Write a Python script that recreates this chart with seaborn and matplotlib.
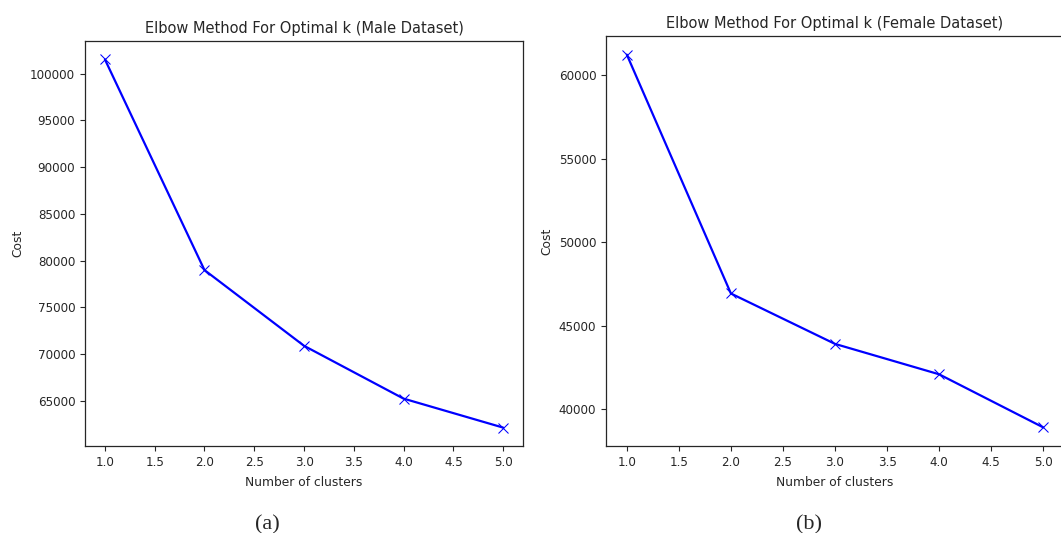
import matplotlib
matplotlib.use("Agg")
import matplotlib.pyplot as plt
import pandas as pd
import seaborn as sns

# Elbow curve values
clusters = [1, 2, 3, 4, 5]
male_cost = [101530, 79000, 70900, 65250, 62150]
female_cost = [61230, 46920, 43900, 42080, 38900]

sns.set_theme(style="ticks")
plt.rcParams["font.family"] = ["DejaVu Sans"]

fig = plt.figure(figsize=(10.61, 5.33), dpi=100)
ax_m = fig.add_axes([85 / 1061, 87 / 533, 438 / 1061, 405 / 533])
ax_f = fig.add_axes([606 / 1061, 87 / 533, 458 / 1061, 410 / 533])

panels = [
    (ax_m, male_cost, "Elbow Method For Optimal k (Male Dataset)", "(a)", 267),
    (ax_f, female_cost, "Elbow Method For Optimal k (Female Dataset)", "(b)", 809),
]

for ax, cost, title, tag, cx in panels:
    df = pd.DataFrame({"k": clusters, "cost": cost})
    sns.lineplot(data=df, x="k", y="cost", ax=ax, color="blue", marker="x",
                 markersize=6.5, markeredgecolor="blue", linewidth=1.6)
    ax.set_title(title, fontsize=10.5, pad=6)
    ax.set_xlabel("Number of clusters", fontsize=8.8, labelpad=5)
    ax.set_ylabel("Cost", fontsize=8.8)
    ax.tick_params(labelsize=8.6, length=3.5, width=0.8)
    for s in ax.spines.values():
        s.set_linewidth(0.9)
    fig.text(cx / 1061, 1 - 525 / 533, tag, ha="center", va="center",
             fontsize=16, family="Liberation Serif")

fig.savefig("out.png", dpi=100)
